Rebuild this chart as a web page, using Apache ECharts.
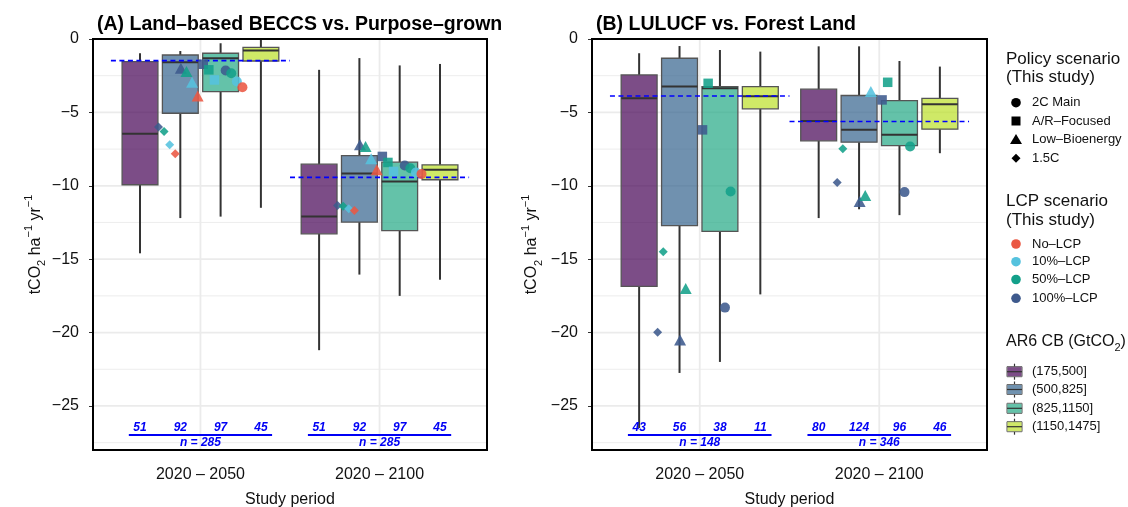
<!DOCTYPE html>
<html>
<head>
<meta charset="utf-8">
<script src="https://cdn.jsdelivr.net/npm/echarts@6/dist/echarts.min.js"></script>
<style>
html, body { margin: 0; padding: 0; background: #fff; }
#chart { width: 1128px; height: 507px; }
</style>
</head>
<body>
<div id="chart"></div>
<script>
// ---- data ----
const periods = ['2020 – 2050', '2020 – 2100'];
const cbBins = ['(175,500]', '(500,825]', '(825,1150]', '(1150,1475]'];
const policyScenarios = ['2C Main', 'A/R–Focused', 'Low–Bioenergy', '1.5C'];
const lcpScenarios = ['No–LCP', '10%–LCP', '50%–LCP', '100%–LCP'];

// Box statistics, ordered by study period, then carbon-budget bin
const beccsLower  = [-14.6, -12.2, -12.1, -11.5, -21.2, -16.05, -17.5, -16.4];
const beccsQ1     = [-9.93, -5.06, -3.58, -1.5, -13.27, -12.47, -13.06, -9.59];
const beccsMedian = [-6.46, -1.59, -1.31, -0.79, -12.09, -9.16, -9.7, -8.91];
const beccsQ3     = [-1.54, -1.09, -0.97, -0.57, -8.53, -7.94, -8.39, -8.57];
const beccsUpper  = [-0.97, -0.82, -0.29, 0.5, -2.1, -1.3, -1.8, -1.7];
const beccsCounts = [51, 92, 97, 45, 51, 92, 97, 45];
const beccsTotals = [285, 285];
const beccsPooledMedian = [-1.47, -9.43];

const lulucfLower  = [-26.5, -22.75, -22.0, -17.4, -12.2, -11.6, -12.0, -7.78];
const lulucfQ1     = [-16.85, -12.72, -13.1, -4.76, -6.94, -7.03, -7.26, -6.14];
const lulucfMedian = [-4.04, -3.24, -3.35, -3.9, -5.58, -6.19, -6.53, -4.44];
const lulucfQ3     = [-2.45, -1.31, -3.24, -3.24, -3.42, -3.85, -4.2, -4.04];
const lulucfUpper  = [-0.97, -0.48, -0.75, -0.86, -0.5, -0.5, -1.5, -1.88];
const lulucfCounts = [43, 56, 38, 11, 80, 124, 96, 46];
const lulucfTotals = [148, 346];
const lulucfPooledMedian = [-3.88, -5.62];

// Scenario results: [period, policy scenario, LCP scenario, value]
const beccsScenarios = [
  [0, '1.5C', '100%–LCP', -6.0], [0, '1.5C', '50%–LCP', -6.3], [0, '1.5C', '10%–LCP', -7.2], [0, '1.5C', 'No–LCP', -7.82],
  [0, 'Low–Bioenergy', '100%–LCP', -2.0], [0, 'Low–Bioenergy', '50%–LCP', -2.22], [0, 'Low–Bioenergy', '10%–LCP', -2.95], [0, 'Low–Bioenergy', 'No–LCP', -3.88],
  [0, 'A/R–Focused', '100%–LCP', -1.72], [0, 'A/R–Focused', '50%–LCP', -2.1], [0, 'A/R–Focused', '10%–LCP', -2.79],
  [0, '2C Main', '100%–LCP', -2.15], [0, '2C Main', '50%–LCP', -2.33], [0, '2C Main', '10%–LCP', -2.9], [0, '2C Main', 'No–LCP', -3.29],
  [1, '1.5C', '100%–LCP', -11.34], [1, '1.5C', '50%–LCP', -11.4], [1, '1.5C', '10%–LCP', -11.56], [1, '1.5C', 'No–LCP', -11.68],
  [1, 'Low–Bioenergy', '100%–LCP', -7.2], [1, 'Low–Bioenergy', '50%–LCP', -7.33], [1, 'Low–Bioenergy', '10%–LCP', -8.16], [1, 'Low–Bioenergy', 'No–LCP', -8.91],
  [1, 'A/R–Focused', '100%–LCP', -8.0], [1, 'A/R–Focused', '50%–LCP', -8.41], [1, 'A/R–Focused', '10%–LCP', -9.02],
  [1, '2C Main', '100%–LCP', -8.62], [1, '2C Main', '50%–LCP', -8.8], [1, '2C Main', '10%–LCP', -9.1], [1, '2C Main', 'No–LCP', -9.2]
];
const lulucfScenarios = [
  [0, '1.5C', '100%–LCP', -19.98], [0, '1.5C', '50%–LCP', -14.5],
  [0, 'Low–Bioenergy', '100%–LCP', -20.5], [0, 'Low–Bioenergy', '50%–LCP', -17.0],
  [0, 'A/R–Focused', '100%–LCP', -6.19], [0, 'A/R–Focused', '50%–LCP', -3.02],
  [0, '2C Main', '100%–LCP', -18.3], [0, '2C Main', '50%–LCP', -10.39],
  [1, '1.5C', '100%–LCP', -9.77], [1, '1.5C', '50%–LCP', -7.48],
  [1, 'Low–Bioenergy', '100%–LCP', -11.07], [1, 'Low–Bioenergy', '50%–LCP', -10.66], [1, 'Low–Bioenergy', '10%–LCP', -3.58],
  [1, 'A/R–Focused', '100%–LCP', -4.15], [1, 'A/R–Focused', '50%–LCP', -2.95],
  [1, '2C Main', '100%–LCP', -10.43], [1, '2C Main', '50%–LCP', -7.32]
];

const yTicks = [0, -5, -10, -15, -20, -25];

// ---- styling ----
const FONT = "'Liberation Sans', Arial, Helvetica, sans-serif";
const binFills = ['rgba(68,1,84,0.7)', 'rgba(51,99,141,0.7)', 'rgba(34,168,132,0.7)', 'rgba(187,223,39,0.7)'];
const lcpColors = { 'No–LCP': '#EA5843', '10%–LCP': '#55C2DE', '50%–LCP': '#13A08A', '100%–LCP': '#3E5A8D' };
const policySymbols = { '2C Main': 'circle', 'A/R–Focused': 'rect', 'Low–Bioenergy': 'triangle', '1.5C': 'diamond' };
const policySizes = { '2C Main': 10, 'A/R–Focused': 9.5, 'Low–Bioenergy': [12, 11], '1.5C': [9, 9] };
const dodgePolicy = ['1.5C', 'Low–Bioenergy', 'A/R–Focused', '2C Main'];
const dodgeLcp = ['100%–LCP', '50%–LCP', '10%–LCP', 'No–LCP'];
const BOX_STEP = 0.225, BOX_WIDTH = 0.2, POINT_DODGE = 0.5;
const COUNT_Y = -26.45, RULE_Y = -26.98, TOTAL_Y = -27.52;
const BLUE = '#0000F5';

const grids = [
  { left: 93, top: 39, width: 394, height: 411, outerBoundsMode: 'none', containLabel: false },
  { left: 592, top: 39, width: 395, height: 411, outerBoundsMode: 'none', containLabel: false }
];

function gridLineSeries(gi) {
  const data = [];
  for (let v = -2.5; v >= -27.5; v -= 2.5) data.push([0, v]);
  data.push([1, 1], [1, 2]);
  return {
    type: 'custom', xAxisIndex: gi, yAxisIndex: gi, z: 1, silent: true, clip: true, data,
    renderItem(params, api) {
      const cs = params.coordSys;
      const kind = api.value(0), v = api.value(1);
      if (kind === 0) {
        const y = api.coord([1, v])[1];
        const major = Math.abs(v % 5) < 1e-9;
        return { type: 'line', shape: { x1: cs.x, y1: y, x2: cs.x + cs.width, y2: y },
          style: { stroke: '#EBEBEB', lineWidth: major ? 1.8 : 0.9 } };
      }
      const x = api.coord([v, -10])[0];
      return { type: 'line', shape: { x1: x, y1: cs.y, x2: x, y2: cs.y + cs.height },
        style: { stroke: '#EBEBEB', lineWidth: 1.8 } };
    }
  };
}

function boxSeries(gi, lo, q1, med, q3, hi) {
  const data = [];
  for (let p = 0; p < 2; p++) for (let b = 0; b < 4; b++) {
    const i = p * 4 + b;
    data.push([p, b, lo[i], q1[i], med[i], q3[i], hi[i]]);
  }
  return {
    type: 'custom', xAxisIndex: gi, yAxisIndex: gi, z: 3, clip: true, data,
    renderItem(params, api) {
      const p = api.value(0), b = api.value(1);
      const xc = p + 1 + (b - 1.5) * BOX_STEP;
      const cx = api.coord([xc, 0])[0];
      const hw = api.size([BOX_WIDTH, 0])[0] / 2;
      const y = k => api.coord([xc, api.value(k)])[1];
      const yLo = y(2), yQ1 = y(3), yMed = y(4), yQ3 = y(5), yHi = y(6);
      const whisk = { stroke: '#333', lineWidth: 2 };
      return {
        type: 'group', children: [
          { type: 'line', shape: { x1: cx, y1: yHi, x2: cx, y2: yQ3 }, style: whisk },
          { type: 'line', shape: { x1: cx, y1: yQ1, x2: cx, y2: yLo }, style: whisk },
          { type: 'rect', shape: { x: cx - hw, y: yQ3, width: 2 * hw, height: yQ1 - yQ3 },
            style: { fill: binFills[b], stroke: '#555', lineWidth: 1.3 } },
          { type: 'line', shape: { x1: cx - hw, y1: yMed, x2: cx + hw, y2: yMed }, style: { stroke: '#333', lineWidth: 2 } }
        ]
      };
    }
  };
}

function pooledSeries(gi, values) {
  return {
    type: 'custom', xAxisIndex: gi, yAxisIndex: gi, z: 4, silent: true,
    data: values.map((v, p) => [p, v]),
    renderItem(params, api) {
      const p = api.value(0), v = api.value(1);
      const a = api.coord([p + 1 - 0.5, v]), b = api.coord([p + 1 + 0.5, v]);
      return { type: 'line', shape: { x1: a[0], y1: a[1], x2: b[0], y2: b[1] },
        style: { stroke: '#0000FF', lineWidth: 1.6, lineDash: [5, 3.5] } };
    }
  };
}

function pointSeries(gi, rows) {
  const slots = dodgePolicy.length * dodgeLcp.length;
  const data = rows.map(([p, pol, lcp, v]) => {
    const slot = dodgePolicy.indexOf(pol) * dodgeLcp.length + dodgeLcp.indexOf(lcp);
    const x = p + 1 - POINT_DODGE / 2 + (slot + 0.5) * POINT_DODGE / slots;
    return { value: [x, v], symbol: policySymbols[pol], symbolSize: policySizes[pol],
      itemStyle: { color: lcpColors[lcp], opacity: 0.88 } };
  });
  return { type: 'scatter', xAxisIndex: gi, yAxisIndex: gi, z: 5, silent: true, data };
}

function countSeries(gi, counts, totals) {
  const data = [];
  counts.forEach((c, i) => data.push([0, Math.floor(i / 4), i % 4, c]));
  totals.forEach((t, p) => data.push([1, p, 0, t]));
  const font = `italic bold 12px ${FONT}`;
  return {
    type: 'custom', xAxisIndex: gi, yAxisIndex: gi, z: 6, silent: true, data,
    renderItem(params, api) {
      const kind = api.value(0), p = api.value(1), b = api.value(2), n = api.value(3);
      if (kind === 0) {
        const pt = api.coord([p + 1 + (b - 1.5) * BOX_STEP, COUNT_Y]);
        return { type: 'text', x: pt[0], y: pt[1],
          style: { text: String(n), font, fill: BLUE, align: 'center', verticalAlign: 'middle', textAlign: 'center', textVerticalAlign: 'middle' } };
      }
      const a = api.coord([p + 1 - 0.4, RULE_Y]), e = api.coord([p + 1 + 0.4, RULE_Y]);
      const t = api.coord([p + 1, TOTAL_Y]);
      return { type: 'group', children: [
        { type: 'line', shape: { x1: a[0], y1: a[1], x2: e[0], y2: e[1] }, style: { stroke: BLUE, lineWidth: 2 } },
        { type: 'text', x: t[0], y: t[1],
          style: { text: 'n = ' + n, font, fill: BLUE, align: 'center', verticalAlign: 'middle', textAlign: 'center', textVerticalAlign: 'middle' } }
      ] };
    }
  };
}

function frameSeries(gi) {
  return {
    type: 'custom', xAxisIndex: gi, yAxisIndex: gi, z: 10, silent: true, clip: false, data: [[1, -10]],
    renderItem(params) {
      const cs = params.coordSys;
      return { type: 'rect', shape: { x: cs.x, y: cs.y, width: cs.width, height: cs.height },
        style: { fill: 'none', stroke: '#000', lineWidth: 2 } };
    }
  };
}

const yName = '{n|tCO}{sub|2}{n| ha}{sup|−1}{n| yr}{sup|−1}';
const yNameStyle = {
  color: '#111', fontFamily: FONT, fontSize: 16,
  rich: {
    n: { fontSize: 16, fontFamily: FONT, color: '#111', lineHeight: 24 },
    sub: { fontSize: 11, fontFamily: FONT, color: '#111', lineHeight: 13, verticalAlign: 'bottom' },
    sup: { fontSize: 11, fontFamily: FONT, color: '#111', lineHeight: 13, verticalAlign: 'top' }
  }
};

function xAxis(gi) {
  return {
    type: 'value', gridIndex: gi, min: 0.4, max: 2.6,
    name: 'Study period', nameLocation: 'middle', nameGap: 42,
    nameTextStyle: { fontSize: 16, color: '#111', fontFamily: FONT },
    axisLine: { show: false },
    splitLine: { show: false },
    axisTick: { show: true, customValues: [1, 2], length: 4, lineStyle: { color: '#333', width: 1 } },
    axisLabel: { customValues: [1, 2], margin: 17, fontSize: 16, color: '#111', fontFamily: FONT,
      formatter: v => periods[Math.round(v) - 1] || '' }
  };
}
function yAxis(gi, gap) {
  return {
    type: 'value', gridIndex: gi, min: -28, max: 0,
    name: yName, nameLocation: 'middle', nameGap: gap, nameTextStyle: yNameStyle,
    axisLine: { show: false },
    splitLine: { show: false },
    axisTick: { show: true, customValues: yTicks, length: 4, lineStyle: { color: '#333', width: 1 } },
    axisLabel: { customValues: yTicks, margin: 14, fontSize: 16, color: '#111', fontFamily: FONT,
      formatter: v => (v === 0 ? '0' : '−' + Math.abs(v)) }
  };
}

// ---- legend (drawn as graphics on the right) ----
const legendX = 1006, symX = 1016, labelX = 1032;
const legendGraphics = [];
function lgTitle(text, y) {
  legendGraphics.push({ type: 'text', left: legendX, top: y - 10,
    style: { text, font: `17px ${FONT}`, fill: '#111' } });
}
function lgLabel(text, y) {
  legendGraphics.push({ type: 'text', x: labelX, y,
    style: { text, font: `13px ${FONT}`, fill: '#111', textVerticalAlign: 'middle', verticalAlign: 'middle' } });
}
function lgShape(kind, y, color) {
  if (kind === 'circle') legendGraphics.push({ type: 'circle', shape: { cx: symX, cy: y, r: 4.8 }, style: { fill: color } });
  else if (kind === 'rect') legendGraphics.push({ type: 'rect', shape: { x: symX - 4.5, y: y - 4.5, width: 9, height: 9 }, style: { fill: color } });
  else if (kind === 'triangle') legendGraphics.push({ type: 'polygon', shape: { points: [[symX, y - 5.5], [symX + 6, y + 4.5], [symX - 6, y + 4.5]] }, style: { fill: color } });
  else legendGraphics.push({ type: 'polygon', shape: { points: [[symX, y - 4.5], [symX + 4.5, y], [symX, y + 4.5], [symX - 4.5, y]] }, style: { fill: color } });
}
lgTitle('Policy scenario', 60.7);
lgTitle('(This study)', 79.3);
[102.7, 121, 139.5, 158.3].forEach((y, i) => {
  const pol = policyScenarios[i];
  lgShape(policySymbols[pol], y, '#000');
  lgLabel(pol, y);
});
lgTitle('LCP scenario', 203.3);
lgTitle('(This study)', 221.8);
[244, 261.7, 279.5, 298.3].forEach((y, i) => {
  const lcp = lcpScenarios[i];
  lgShape('circle', y, lcpColors[lcp]);
  lgLabel(lcp, y);
});
legendGraphics.push({ type: 'text', left: legendX, top: 345 - 11,
  style: { text: '{t|AR6 CB (GtCO}{s|2}{t|)}', font: `16px ${FONT}`, fill: '#111',
    rich: { t: { fontSize: 16, fontFamily: FONT, fill: '#111', lineHeight: 22 },
            s: { fontSize: 11, fontFamily: FONT, fill: '#111', lineHeight: 14, verticalAlign: 'bottom' } } } });
[371.7, 389.5, 408.3, 426.7].forEach((y, i) => {
  const cx = 1014.5;
  legendGraphics.push({ type: 'line', shape: { x1: cx, y1: y - 8, x2: cx, y2: y + 8 }, style: { stroke: '#333', lineWidth: 1.2 } });
  legendGraphics.push({ type: 'rect', shape: { x: cx - 7.5, y: y - 5, width: 15, height: 10 }, style: { fill: binFills[i].replace('0.7)', '1)'), stroke: '#555', lineWidth: 1 } });
  legendGraphics.push({ type: 'rect', shape: { x: cx - 7.5, y: y - 5, width: 15, height: 10 }, style: { fill: '#fff', opacity: 0.3 } });
  legendGraphics.push({ type: 'line', shape: { x1: cx - 7.5, y1: y, x2: cx + 7.5, y2: y }, style: { stroke: '#333', lineWidth: 1.2 } });
  lgLabel(cbBins[i], y);
});

const chart = echarts.init(document.getElementById('chart'), null, { renderer: 'canvas' });
chart.setOption({
  animation: false,
  backgroundColor: '#fff',
  textStyle: { fontFamily: FONT },
  title: [
    { text: '(A) Land–based BECCS vs. Purpose–grown', left: 92, top: 10,
      textStyle: { fontSize: 19.5, fontWeight: 'bold', color: '#000', fontFamily: FONT } },
    { text: '(B) LULUCF vs. Forest Land', left: 591, top: 10,
      textStyle: { fontSize: 19.5, fontWeight: 'bold', color: '#000', fontFamily: FONT } }
  ],
  grid: grids,
  xAxis: [xAxis(0), xAxis(1)],
  yAxis: [yAxis(0, 42), yAxis(1, 48)],
  graphic: legendGraphics,
  series: [
    gridLineSeries(0), gridLineSeries(1),
    boxSeries(0, beccsLower, beccsQ1, beccsMedian, beccsQ3, beccsUpper),
    boxSeries(1, lulucfLower, lulucfQ1, lulucfMedian, lulucfQ3, lulucfUpper),
    pooledSeries(0, beccsPooledMedian), pooledSeries(1, lulucfPooledMedian),
    pointSeries(0, beccsScenarios), pointSeries(1, lulucfScenarios),
    countSeries(0, beccsCounts, beccsTotals), countSeries(1, lulucfCounts, lulucfTotals),
    frameSeries(0), frameSeries(1)
  ]
});
</script>
</body>
</html>
